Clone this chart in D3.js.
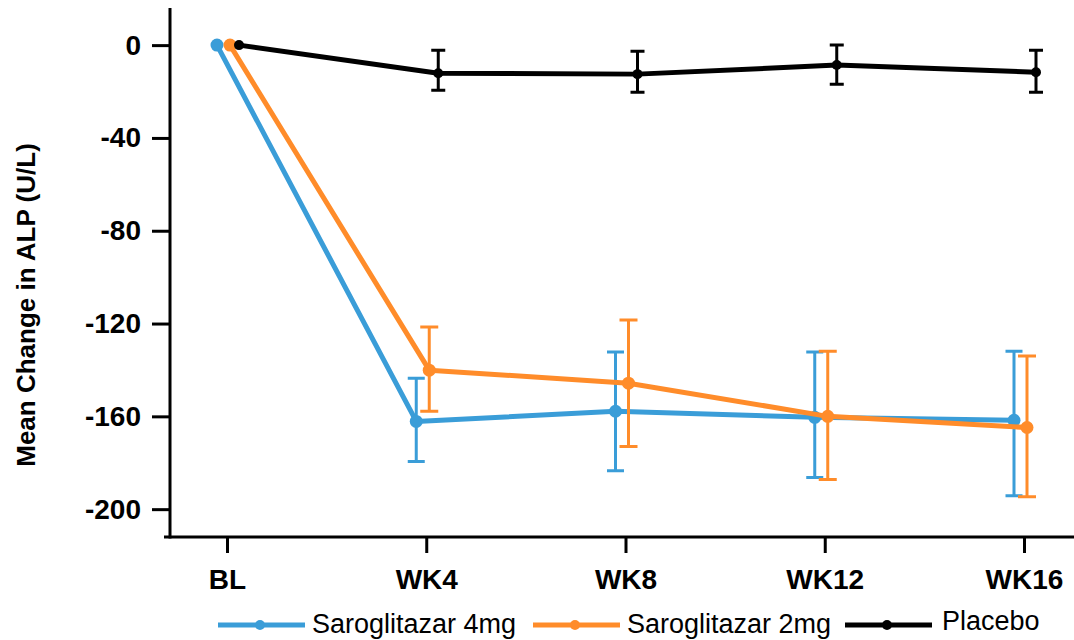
<!DOCTYPE html>
<html>
<head>
<meta charset="utf-8">
<script src="https://cdn.jsdelivr.net/npm/d3@7"></script>
<style>
	body { margin: 0; background: #fff; }
	svg { display: block; font-family: 'Liberation Sans', Arial, sans-serif; }
</style>
</head>
<body>
<svg id="chart" width="1074" height="640"></svg>
<script>
'use strict'

const weeks = ['BL', 'WK4', 'WK8', 'WK12', 'WK16']
const yTicks = [0, -40, -80, -120, -160, -200]

// mean change and error bar ends
const sg4Mean = [0, -162.2, -157.8, -160.4, -161.7]
const sg4Upper = [null, -143.6, -132.3, -132.3, -131.9]
const sg4Lower = [null, -179.5, -183.4, -186.4, -194.2]

const sg2Mean = [0, -140.1, -145.7, -160.0, -164.8]
const sg2Upper = [null, -121.5, -118.5, -131.9, -134.0]
const sg2Lower = [null, -157.8, -173.0, -187.2, -194.6]

const pboMean = [0, -12.1, -12.5, -8.6, -11.7]
const pboUpper = [null, -2.2, -2.6, 0, -2.2]
const pboLower = [null, -19.5, -20.3, -16.9, -20.3]

const seriesNames = ['Saroglitazar 4mg', 'Saroglitazar 2mg', 'Placebo']

const params = {
	axisX: 170,
	axisY: 537,
	top: 8,
	lineWidth: 5,
	errWidth: 3
}

const series = [
	{name: seriesNames[0], mean: sg4Mean, upper: sg4Upper, lower: sg4Lower, color: '#3a9dd8', dx: -10, r: 6.5, cap: 17},
	{name: seriesNames[1], mean: sg2Mean, upper: sg2Upper, lower: sg2Lower, color: '#ff8c2a', dx: 3, r: 6.5, cap: 18},
	{name: seriesNames[2], mean: pboMean, upper: pboUpper, lower: pboLower, color: '#000000', dx: 12, r: 5, cap: 14}
]

const svg = d3.select('#chart')

const x = d3.scalePoint().domain(weeks).range([227, 1024])
const y = d3.scaleLinear().domain([16, -212]).range([params.top, params.axisY])

// y axis (plain hyphen for negatives, like the original)
const yAxis = svg.append('g')
	.attr('transform', `translate(${params.axisX},0)`)
	.call(d3.axisLeft(y).tickValues(yTicks).tickFormat((d) => String(d)).tickSize(18).tickPadding(11))
yAxis.select('.domain').remove()
yAxis.selectAll('.tick line').attr('stroke', '#000').attr('stroke-width', 3)
yAxis.selectAll('.tick text')
	.attr('font-size', 28)
	.attr('font-weight', 'bold')
	.attr('fill', '#000')
	.attr('font-family', "'Liberation Sans', Arial, sans-serif")

svg.append('line')
	.attr('x1', params.axisX).attr('x2', params.axisX)
	.attr('y1', params.top).attr('y2', params.axisY + 1.5)
	.attr('stroke', '#000').attr('stroke-width', 3)

// x axis
const xAxis = svg.append('g')
	.attr('transform', `translate(0,${params.axisY})`)
	.call(d3.axisBottom(x).tickSize(16).tickPadding(16))
xAxis.select('.domain').remove()
xAxis.selectAll('.tick line').attr('stroke', '#000').attr('stroke-width', 3)
xAxis.selectAll('.tick text')
	.attr('font-size', 28)
	.attr('font-weight', 'bold')
	.attr('fill', '#000')
	.attr('font-family', "'Liberation Sans', Arial, sans-serif")

svg.append('line')
	.attr('x1', params.axisX - 6).attr('x2', 1074)
	.attr('y1', params.axisY).attr('y2', params.axisY)
	.attr('stroke', '#000').attr('stroke-width', 3)

// y title
svg.append('text')
	.attr('transform', 'translate(35,305) rotate(-90)')
	.attr('text-anchor', 'middle')
	.attr('font-size', 26)
	.attr('font-weight', 'bold')
	.text('Mean Change in ALP (U/L)')

const line = d3.line()
	.x((d) => d.x)
	.y((d) => d.y)

series.forEach((s) => {
	const g = svg.append('g').attr('class', 'series')
	const pts = weeks.map((w, i) => ({
		x: x(w) + s.dx,
		y: y(s.mean[i]),
		up: s.upper[i],
		lo: s.lower[i]
	}))

	g.append('path')
		.attr('d', line(pts))
		.attr('fill', 'none')
		.attr('stroke', s.color)
		.attr('stroke-width', params.lineWidth)
		.attr('stroke-linejoin', 'round')

	const bars = pts.filter((p) => p.up !== null)
	g.selectAll('.err')
		.data(bars)
		.enter()
		.append('path')
		.attr('class', 'err')
		.attr('d', (p) => {
			const yt = y(p.up)
			const yb = y(p.lo)
			const h = s.cap / 2
			return `M${p.x},${yt}V${yb}M${p.x - h},${yt}H${p.x + h}M${p.x - h},${yb}H${p.x + h}`
		})
		.attr('fill', 'none')
		.attr('stroke', s.color)
		.attr('stroke-width', params.errWidth)

	g.selectAll('circle')
		.data(pts)
		.enter()
		.append('circle')
		.attr('cx', (p) => p.x)
		.attr('cy', (p) => p.y)
		.attr('r', s.r)
		.attr('fill', s.color)
})

// legend
const legendX = [218, 533, 845]
const legendTextY = [633, 633, 630]
const legend = svg.append('g').attr('class', 'legend')
series.forEach((s, i) => {
	const lx = legendX[i]
	legend.append('line')
		.attr('x1', lx).attr('x2', lx + 87)
		.attr('y1', 625).attr('y2', 625)
		.attr('stroke', s.color)
		.attr('stroke-width', 5)
	legend.append('circle')
		.attr('cx', lx + 42).attr('cy', 625)
		.attr('r', 5)
		.attr('fill', s.color)
	legend.append('text')
		.attr('x', lx + (i === 2 ? 97 : 94))
		.attr('y', legendTextY[i])
		.attr('font-size', 27)
		.attr('fill', '#000')
		.text(s.name)
})
</script>
</body>
</html>
